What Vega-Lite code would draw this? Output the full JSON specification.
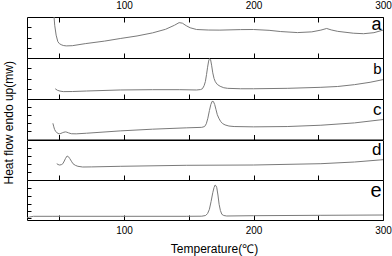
{
  "$schema": "https://vega.github.io/schema/vega-lite/v6.json",
  "padding": {"left": 1, "top": 0, "right": 2, "bottom": 1},
  "background": "white",
  "spacing": 0,
  "bounds": "flush",
  "datasets": {
    "a": [{"T":45.5,"v":4.6},{"T":45.9,"v":4.0},{"T":46.4,"v":3.2},{"T":47.5,"v":2.23},{"T":48.8,"v":1.6},{"T":50,"v":1.4},{"T":51.4,"v":1.3},{"T":53,"v":1.22},{"T":55.3,"v":1.18},{"T":60,"v":1.2},{"T":70,"v":1.4},{"T":85,"v":1.65},{"T":97,"v":1.9},{"T":110,"v":2.15},{"T":122,"v":2.45},{"T":132,"v":2.8},{"T":139,"v":3.2},{"T":142.5,"v":3.45},{"T":145,"v":3.4},{"T":148,"v":3.15},{"T":151,"v":2.95},{"T":156,"v":2.78},{"T":165,"v":2.73},{"T":174,"v":2.72},{"T":190,"v":2.77},{"T":200,"v":2.78},{"T":212,"v":2.7},{"T":221,"v":2.58},{"T":234,"v":2.48},{"T":245,"v":2.55},{"T":252,"v":2.72},{"T":256.5,"v":2.88},{"T":260,"v":2.74},{"T":265,"v":2.6},{"T":277,"v":2.42},{"T":285,"v":2.37},{"T":293,"v":2.47},{"T":300,"v":2.72}],
    "b": [{"T":46.8,"v":1.0},{"T":48.5,"v":0.85},{"T":50.5,"v":0.77},{"T":53,"v":0.72},{"T":60,"v":0.73},{"T":71,"v":0.78},{"T":97,"v":0.88},{"T":122,"v":0.91},{"T":143,"v":0.91},{"T":156,"v":0.88},{"T":159,"v":0.92},{"T":160.5,"v":1.0},{"T":161.8,"v":1.3},{"T":162.8,"v":1.7},{"T":163.7,"v":2.4},{"T":164.5,"v":3.1},{"T":165.3,"v":3.7},{"T":166,"v":3.95},{"T":166.8,"v":3.85},{"T":167.6,"v":3.3},{"T":168.5,"v":2.55},{"T":169.5,"v":2.0},{"T":170.5,"v":1.68},{"T":172,"v":1.42},{"T":174.2,"v":1.24},{"T":177,"v":1.1},{"T":180,"v":1.04},{"T":190,"v":1.0},{"T":200,"v":1.0},{"T":226,"v":1.04},{"T":252,"v":1.14},{"T":265,"v":1.22},{"T":278,"v":1.4},{"T":290,"v":1.63},{"T":300,"v":1.89}],
    "c": [{"T":45,"v":1.6},{"T":45.7,"v":1.25},{"T":46.3,"v":1.0},{"T":47.2,"v":0.78},{"T":48,"v":0.69},{"T":49,"v":0.6},{"T":50.1,"v":0.56},{"T":51.2,"v":0.6},{"T":52.2,"v":0.66},{"T":53.5,"v":0.72},{"T":54.8,"v":0.75},{"T":55.8,"v":0.72},{"T":57,"v":0.66},{"T":59.2,"v":0.57},{"T":63,"v":0.56},{"T":71,"v":0.62},{"T":97,"v":0.85},{"T":122,"v":1.02},{"T":148,"v":1.15},{"T":160,"v":1.2},{"T":162.2,"v":1.28},{"T":163.5,"v":1.55},{"T":164.7,"v":2.1},{"T":165.9,"v":2.85},{"T":167,"v":3.45},{"T":168,"v":3.77},{"T":169,"v":3.75},{"T":170,"v":3.45},{"T":171,"v":2.95},{"T":172,"v":2.45},{"T":173.2,"v":2.1},{"T":174.5,"v":1.8},{"T":176,"v":1.58},{"T":178,"v":1.44},{"T":181,"v":1.33},{"T":185,"v":1.28},{"T":200,"v":1.25},{"T":226,"v":1.28},{"T":252,"v":1.41},{"T":278,"v":1.64},{"T":300,"v":1.97}],
    "d": [{"T":48,"v":1.63},{"T":49,"v":1.55},{"T":50.1,"v":1.5},{"T":51.5,"v":1.53},{"T":52.7,"v":1.63},{"T":53.8,"v":1.9},{"T":54.8,"v":2.17},{"T":56,"v":2.4},{"T":57,"v":2.33},{"T":58,"v":2.15},{"T":59.3,"v":1.88},{"T":60.5,"v":1.63},{"T":62.3,"v":1.47},{"T":64.3,"v":1.37},{"T":68,"v":1.3},{"T":75,"v":1.31},{"T":97,"v":1.37},{"T":148,"v":1.47},{"T":200,"v":1.5},{"T":252,"v":1.63},{"T":278,"v":1.8},{"T":300,"v":2.03}],
    "e": [{"T":25,"v":0.22},{"T":27,"v":0.3},{"T":30,"v":0.37},{"T":45,"v":0.37},{"T":97,"v":0.37},{"T":148,"v":0.37},{"T":160,"v":0.38},{"T":163,"v":0.45},{"T":164.5,"v":0.65},{"T":165.9,"v":1.07},{"T":167.2,"v":1.85},{"T":168.5,"v":2.73},{"T":169.5,"v":3.25},{"T":170.3,"v":3.5},{"T":171,"v":3.42},{"T":171.6,"v":3.23},{"T":172.5,"v":2.5},{"T":173.4,"v":1.57},{"T":174.4,"v":0.95},{"T":175.5,"v":0.57},{"T":177,"v":0.45},{"T":179.3,"v":0.4},{"T":200,"v":0.43},{"T":252,"v":0.47},{"T":300,"v":0.5}],
    "la": [{"label":"a"}], "lb": [{"label":"b"}], "lc": [{"label":"c"}], "ld": [{"label":"d"}], "le": [{"label":"e"}]
  },
  "vconcat": [
    {
      "width": 356, "height": 41,
      "resolve": {"axis": {"x": "independent"}},
      "layer": [
        {"data": {"name": "a"}, "mark": {"type": "line", "color": "#7a7a7a", "strokeWidth": 1, "clip": true},
         "encoding": {
           "x": {"field": "T", "type": "quantitative", "scale": {"domain": [25, 300], "nice": false, "zero": false},
                 "axis": {"orient": "bottom", "values": [50,100,150,200,250], "labels": false, "tickSize": -5, "title": null}},
           "y": {"field": "v", "type": "quantitative", "scale": {"domain": [0, 4], "nice": false, "zero": false},
                 "axis": {"values": [1,2,3], "labels": false, "tickSize": -4, "title": null}}}},
        {"data": {"name": "la"}, "mark": {"type": "text", "align": "right", "baseline": "alphabetic", "dx": -1.5, "dy": 12.5, "fontSize": 18, "font": "Liberation Sans", "color": "#000"},
         "encoding": {
           "text": {"field": "label"},
           "x": {"datum": 300, "type": "quantitative",
                 "axis": {"orient": "top", "values": [50,100,150,200,250,300], "tickSize": -5, "labelPadding": 11.5, "labelExpr": "datum.value % 100 === 0 ? datum.label : ''", "title": null}},
           "y": {"datum": 4, "type": "quantitative",
                 "axis": {"values": [1,2,3], "labels": false, "tickSize": -4, "title": null}}}}
      ]
    },
    {
      "width": 356, "height": 41,
      "layer": [
        {"data": {"name": "b"}, "mark": {"type": "line", "color": "#7a7a7a", "strokeWidth": 1, "clip": true},
         "encoding": {
           "x": {"field": "T", "type": "quantitative", "scale": {"domain": [25, 300], "nice": false, "zero": false},
                 "axis": {"orient": "bottom", "values": [50,100,150,200,250], "labels": false, "tickSize": -5, "title": null}},
           "y": {"field": "v", "type": "quantitative", "scale": {"domain": [0, 4], "nice": false, "zero": false},
                 "axis": {"values": [1,2,3], "labels": false, "tickSize": -4, "title": null}}}},
        {"data": {"name": "lb"}, "mark": {"type": "text", "align": "right", "baseline": "alphabetic", "dx": -1.5, "dy": 16, "fontSize": 15, "font": "Liberation Sans", "color": "#000"},
         "encoding": {
           "text": {"field": "label"},
           "x": {"datum": 300, "type": "quantitative",
                 "axis": {"orient": "bottom", "values": [50,100,150,200,250], "labels": false, "tickSize": -5, "title": null}},
           "y": {"datum": 4, "type": "quantitative",
                 "axis": {"values": [1,2,3], "labels": false, "tickSize": -4, "title": null}}}}
      ]
    },
    {
      "width": 356, "height": 40.5,
      "layer": [
        {"data": {"name": "c"}, "mark": {"type": "line", "color": "#7a7a7a", "strokeWidth": 1, "clip": true},
         "encoding": {
           "x": {"field": "T", "type": "quantitative", "scale": {"domain": [25, 300], "nice": false, "zero": false},
                 "axis": {"orient": "bottom", "values": [50,100,150,200,250], "labels": false, "tickSize": -5, "title": null}},
           "y": {"field": "v", "type": "quantitative", "scale": {"domain": [0, 4], "nice": false, "zero": false},
                 "axis": {"values": [0.8,1.6,2.4,3.2], "labels": false, "tickSize": -4, "title": "Heat flow endo up(mw)", "titlePadding": 11, "titleY": 23.3}}}},
        {"data": {"name": "lc"}, "mark": {"type": "text", "align": "right", "baseline": "alphabetic", "dx": -1.5, "dy": 15.6, "fontSize": 17, "font": "Liberation Sans", "color": "#000"},
         "encoding": {
           "text": {"field": "label"},
           "x": {"datum": 300, "type": "quantitative",
                 "axis": {"orient": "bottom", "values": [50,100,150,200,250], "labels": false, "tickSize": -5, "title": null}},
           "y": {"datum": 4, "type": "quantitative",
                 "axis": {"values": [0.8,1.6,2.4,3.2], "labels": false, "tickSize": -4, "title": "Heat flow endo up(mw)", "titlePadding": 11, "titleY": 23.3}}}}
      ]
    },
    {
      "width": 356, "height": 40,
      "layer": [
        {"data": {"name": "d"}, "mark": {"type": "line", "color": "#7a7a7a", "strokeWidth": 1, "clip": true},
         "encoding": {
           "x": {"field": "T", "type": "quantitative", "scale": {"domain": [25, 300], "nice": false, "zero": false},
                 "axis": {"orient": "bottom", "values": [50,100,150,200,250], "labels": false, "tickSize": -5, "title": null}},
           "y": {"field": "v", "type": "quantitative", "scale": {"domain": [0, 4], "nice": false, "zero": false},
                 "axis": {"values": [0.8,1.6,2.4,3.2], "labels": false, "tickSize": -4, "title": null}}}},
        {"data": {"name": "ld"}, "mark": {"type": "text", "align": "right", "baseline": "alphabetic", "dx": -1.5, "dy": 14.7, "fontSize": 17, "font": "Liberation Sans", "color": "#000"},
         "encoding": {
           "text": {"field": "label"},
           "x": {"datum": 300, "type": "quantitative",
                 "axis": {"orient": "bottom", "values": [50,100,150,200,250], "labels": false, "tickSize": -5, "title": null}},
           "y": {"datum": 4, "type": "quantitative",
                 "axis": {"values": [0.8,1.6,2.4,3.2], "labels": false, "tickSize": -4, "title": null}}}}
      ]
    },
    {
      "width": 356, "height": 40,
      "layer": [
        {"data": {"name": "e"}, "mark": {"type": "line", "color": "#7a7a7a", "strokeWidth": 1, "clip": true},
         "encoding": {
           "x": {"field": "T", "type": "quantitative", "scale": {"domain": [25, 300], "nice": false, "zero": false},
                 "axis": {"orient": "bottom", "values": [50,100,150,200,250,300], "tickSize": -5, "labelPadding": 10, "labelExpr": "datum.value % 100 === 0 ? datum.label : ''", "title": "Temperature(℃)", "titlePadding": 8, "titleX": 187}},
           "y": {"field": "v", "type": "quantitative", "scale": {"domain": [0, 4], "nice": false, "zero": false},
                 "axis": {"values": [0.2,0.87,1.63,2.42,3.17], "labels": false, "tickSize": -4, "title": null}}}},
        {"data": {"name": "le"}, "mark": {"type": "text", "align": "right", "baseline": "alphabetic", "dx": -1.5, "dy": 16.7, "fontSize": 20, "font": "Liberation Sans", "color": "#000"},
         "encoding": {
           "text": {"field": "label"},
           "x": {"datum": 300, "type": "quantitative",
                 "axis": {"orient": "bottom", "values": [50,100,150,200,250,300], "tickSize": -5, "labelPadding": 10, "labelExpr": "datum.value % 100 === 0 ? datum.label : ''", "title": "Temperature(℃)", "titlePadding": 8, "titleX": 187}},
           "y": {"datum": 4, "type": "quantitative",
                 "axis": {"values": [0.2,0.87,1.63,2.42,3.17], "labels": false, "tickSize": -4, "title": null}}}}
      ]
    }
  ],
  "config": {
    "view": {"stroke": "#000", "strokeWidth": 1},
    "axis": {"domain": false, "grid": false, "tickColor": "#000", "tickWidth": 1, "labelFont": "Liberation Sans", "labelFontSize": 10, "labelColor": "#000", "titleFont": "Liberation Sans", "titleFontSize": 12, "titleFontWeight": "normal", "titleColor": "#000", "labelFlush": false, "labelOverlap": false, "labelBound": false}
  }
}
